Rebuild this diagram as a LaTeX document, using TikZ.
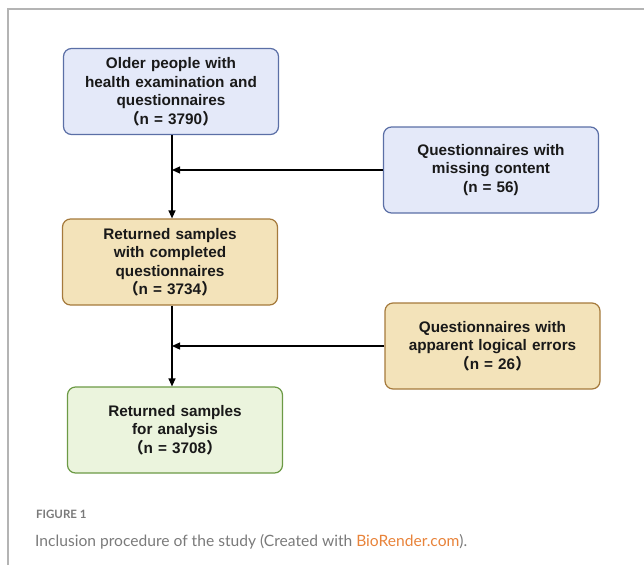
\documentclass[tikz,border=0pt]{standalone}
\usepackage{fontspec}
\setmainfont{Liberation Sans}
\newfontfamily\cjk{Noto Sans CJK SC}
\newfontfamily\capfont{Lato}
\usetikzlibrary{arrows.meta}

\definecolor{blueFill}{HTML}{E4E9F9}
\definecolor{blueLine}{HTML}{5B6FA6}
\definecolor{tanFill}{HTML}{F3E3BA}
\definecolor{tanLine}{HTML}{A57A3C}
\definecolor{greenFill}{HTML}{EBF4DD}
\definecolor{greenLine}{HTML}{6C9A45}
\definecolor{capGray}{HTML}{7A7A7A}
\definecolor{linkOrange}{HTML}{E8833A}
\definecolor{frameGray}{HTML}{B4B4B4}

\newcommand{\fwl}{{\cjk （}}
\newcommand{\fwr}{{\cjk ）}}

\begin{document}
\begin{tikzpicture}[x=1pt,y=-1pt,
    box/.style={draw,rounded corners=8pt,line width=1.2pt,align=center,
      minimum width=215pt,minimum height=86pt,text width=205pt,
      text=black!90,font=\fontsize{15.3}{18.5}\selectfont\bfseries},
    bluebox/.style={box,fill=blueFill,draw=blueLine},
    tanbox/.style={box,fill=tanFill,draw=tanLine},
    greenbox/.style={box,fill=greenFill,draw=greenLine},
    flow/.style={line width=1.2pt,-{Triangle[length=8pt,width=7pt]}}]
        \useasboundingbox (0,0) rectangle (644,565);
        \draw[frameGray,line width=1.5pt] (8,565) -- (8,9) -- (644,9);

        \node[bluebox] (older) at (171,91.5) {Older people with\\health examination and\\questionnaires\\\fwl n = 3790\fwr};
        \node[bluebox] (missing) at (491,170) {Questionnaires with\\missing content\\(n = 56)};
        \node[tanbox] (returned) at (170,262) {Returned samples\\with completed\\questionnaires\\\fwl n = 3734\fwr};
        \node[tanbox] (logical) at (492.5,346) {Questionnaires with\\apparent logical errors\\\fwl n = 26\fwr};
        \node[greenbox] (analysis) at (175,430) {Returned samples\\for analysis\\\fwl n = 3708\fwr};

        \coordinate (trunkA) at (172,0);
        \draw[flow] (older.south -| trunkA) -- (returned.north -| trunkA);
        \draw[flow] (missing.west) -- (missing.west -| trunkA);
        \draw[flow] (returned.south -| trunkA) -- (analysis.north -| trunkA);
        \draw[flow] (logical.west) -- (logical.west -| trunkA);

        \node[anchor=base west,inner sep=0pt,text=capGray,font=\capfont\fontsize{11.5}{14}\selectfont\bfseries] (figlabel) at (36,518) {FIGURE 1};
        \node[anchor=base west,inner sep=0pt,text=capGray,font=\capfont\fontsize{15.6}{19}\selectfont] (caption) at (35,546) {Inclusion procedure of the study (Created with \textcolor{linkOrange}{BioRender.com}).};
\end{tikzpicture}
\end{document}
